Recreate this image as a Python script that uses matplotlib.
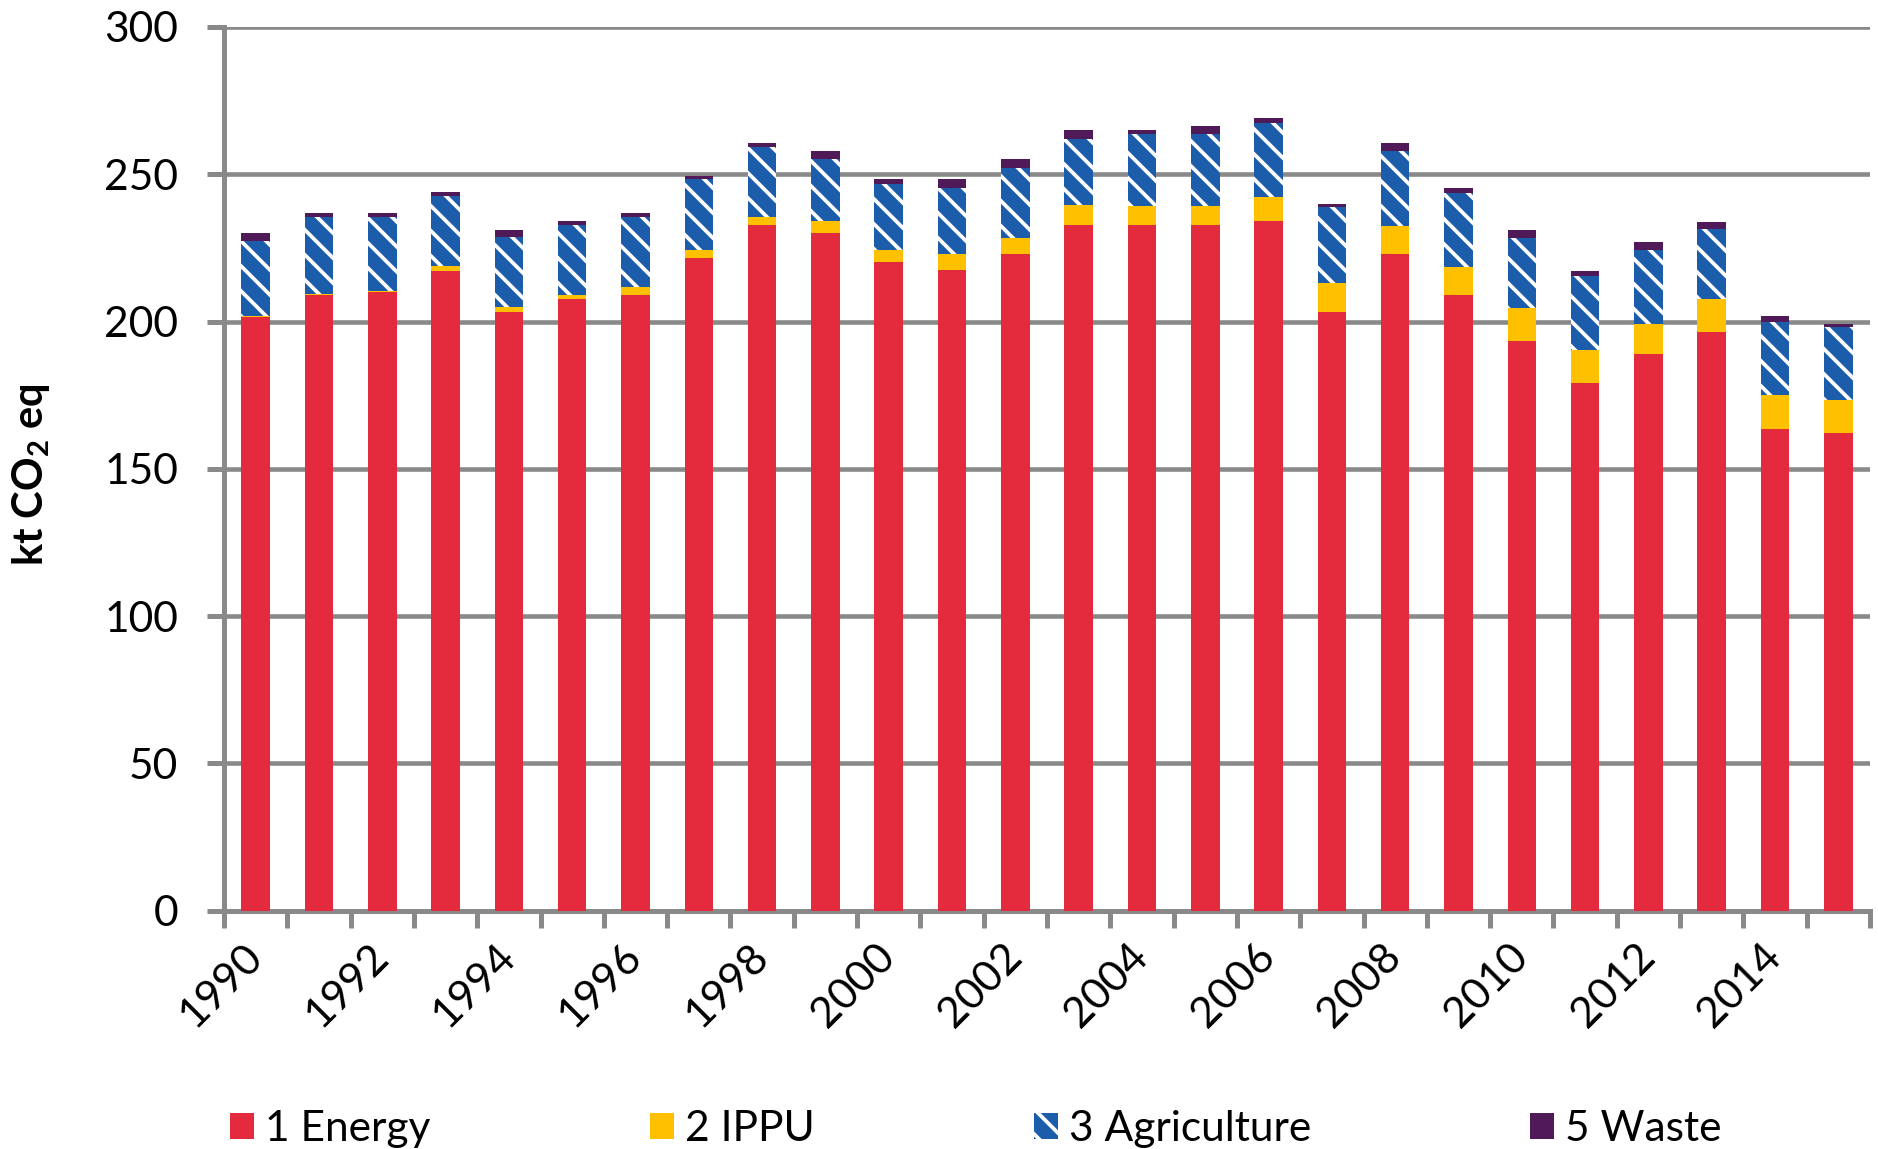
import matplotlib
matplotlib.use("Agg")
import matplotlib.pyplot as plt
import numpy as np

years = list(range(1990, 2016))
energy = [201.6, 209.0, 210.2, 217.3, 203.4, 207.5, 209.0, 221.5, 232.7, 229.9,
          220.1, 217.5, 223.1, 232.8, 232.7, 232.7, 234.0, 203.4, 223.0, 208.9,
          193.4, 179.2, 189.0, 196.3, 163.4, 162.1]
ippu = [0.3, 0.3, 0.3, 1.4, 1.4, 1.5, 2.7, 2.9, 2.9, 4.3,
        4.3, 5.6, 5.4, 6.8, 6.7, 6.7, 8.3, 9.8, 9.6, 9.6,
        11.3, 11.3, 10.1, 11.2, 11.6, 11.4]
agriculture = [25.4, 26.1, 24.9, 24.0, 23.8, 23.9, 23.7, 23.9, 23.8, 21.1,
               22.4, 22.2, 23.8, 22.3, 24.2, 24.2, 25.2, 25.6, 25.3, 25.1,
               23.5, 25.1, 25.2, 23.9, 24.7, 24.5]
waste = [2.8, 1.6, 1.6, 1.2, 2.6, 1.1, 1.4, 1.1, 1.3, 2.6,
         1.5, 3.0, 2.8, 3.0, 1.3, 2.8, 1.5, 1.0, 2.8, 1.7,
         2.8, 1.7, 2.8, 2.5, 2.3, 1.2]
series_names = ["1 Energy", "2 IPPU", "3 Agriculture", "5 Waste"]
y_ticks = [0, 50, 100, 150, 200, 250, 300]

DPI = 150
plt.rcParams['font.family'] = ['Lato', 'DejaVu Sans']
plt.rcParams['mathtext.fontset'] = 'custom'
plt.rcParams['mathtext.rm'] = 'Lato'
plt.rcParams['mathtext.bf'] = 'Lato:bold'
plt.rcParams['mathtext.it'] = 'Lato:italic'
plt.rcParams['hatch.linewidth'] = 1.8

fig = plt.figure(figsize=(1878 / DPI, 1149 / DPI), dpi=DPI)
ax = fig.add_axes([224 / 1878, 1 - 910.7 / 1149, (1870 - 224) / 1878, (910.7 - 27) / 1149])

x = np.arange(len(years))
w = 0.45
c_red = '#E32B3D'
c_gold = '#FFC000'
c_blue = '#1B5DAA'
c_purple = '#4F1A57'
gray = '#898989'

e = np.array(energy)
i = np.array(ippu)
a = np.array(agriculture)
wv = np.array(waste)

b1 = ax.bar(x, e, w, color=c_red, linewidth=0, zorder=3, label=series_names[0])
b2 = ax.bar(x, i, w, bottom=e, color=c_gold, linewidth=0, zorder=3, label=series_names[1])
b3 = ax.bar(x, a, w, bottom=e + i, color=c_blue, edgecolor='white', linewidth=0,
            hatch='\\\\', zorder=3, label=series_names[2])
b4 = ax.bar(x, wv, w, bottom=e + i + a, color=c_purple, linewidth=0, zorder=3,
            label=series_names[3])

ax.set_xlim(-0.5, len(years) - 0.5)
ax.set_ylim(0, 300)
ax.set_yticks(y_ticks)
ax.set_yticklabels([str(v) for v in y_ticks])
ax.yaxis.grid(True, color=gray, linewidth=2.2, zorder=0)
ax.set_axisbelow(True)

# category boundary ticks (major), labels at every other category (minor)
ax.set_xticks(np.arange(-0.5, len(years), 1.0))
ax.set_xticklabels([])
ax.set_xticks(x[::2], minor=True)
ax.set_xticklabels([str(y) for y in years[::2]], minor=True, rotation=45,
                   ha='right', va='center', rotation_mode='anchor')
ax.tick_params(axis='x', which='major', length=8.2, width=2.4, color=gray, direction='out')
ax.tick_params(axis='x', which='minor', length=0, pad=19, labelsize=20.6)
ax.tick_params(axis='y', length=8.2, width=2.4, color=gray, direction='out', pad=13.9,
               labelsize=20.4)

for s in ['top', 'right']:
    ax.spines[s].set_visible(False)
for s in ['left', 'bottom']:
    ax.spines[s].set_color(gray)
    ax.spines[s].set_linewidth(2.4)

ax.set_ylabel(r'kt CO$_\mathbf{2}$ eq', fontsize=20, fontweight='bold', va='center')
ax.yaxis.set_label_coords((31.5 - 224) / 1646, (910.7 - 475) / 883.7)

fig.legend(handles=[b1, b2, b3, b4], labels=series_names, loc='center',
           bbox_to_anchor=(976 / 1878, 1 - 1129 / 1149), ncol=4, frameon=False,
           fontsize=20.4, handlelength=0.56, handleheight=0.56, handletextpad=0.26,
           columnspacing=5.16, borderpad=0, borderaxespad=0)

fig.savefig('out.png', dpi=DPI)
